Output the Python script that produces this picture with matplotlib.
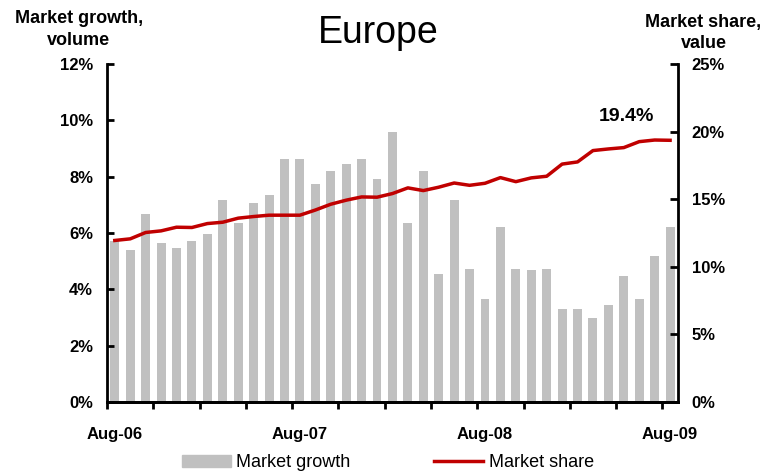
import matplotlib.pyplot as plt
import numpy as np
from matplotlib.patches import Patch
from matplotlib.lines import Line2D

plt.rcParams['font.family'] = ['Liberation Sans', 'DejaVu Sans']

# monthly data, Aug-06 .. Aug-09
months = ["Aug-06", "Sep-06", "Oct-06", "Nov-06", "Dec-06", "Jan-07", "Feb-07", "Mar-07",
          "Apr-07", "May-07", "Jun-07", "Jul-07", "Aug-07", "Sep-07", "Oct-07", "Nov-07",
          "Dec-07", "Jan-08", "Feb-08", "Mar-08", "Apr-08", "May-08", "Jun-08", "Jul-08",
          "Aug-08", "Sep-08", "Oct-08", "Nov-08", "Dec-08", "Jan-09", "Feb-09", "Mar-09",
          "Apr-09", "May-09", "Jun-09", "Jul-09", "Aug-09"]
growth = [5.73, 5.38, 6.69, 5.66, 5.48, 5.73, 5.95, 7.19, 6.37, 7.08, 7.36, 8.64, 8.64,
          7.75, 8.22, 8.46, 8.64, 7.93, 9.60, 6.37, 8.22, 4.53, 7.19, 4.74, 3.64, 6.23,
          4.74, 4.67, 4.74, 3.29, 3.29, 2.97, 3.46, 4.49, 3.64, 5.17, 6.23]
share = [11.95, 12.07, 12.54, 12.66, 12.93, 12.91, 13.2, 13.3, 13.6, 13.72, 13.82, 13.82,
         13.82, 14.2, 14.63, 14.93, 15.17, 15.15, 15.42, 15.84, 15.64, 15.89, 16.2, 16.03,
         16.18, 16.6, 16.3, 16.58, 16.7, 17.6, 17.76, 18.6, 18.72, 18.82, 19.26, 19.38, 19.36]
shown_labels = ["Aug-06", "Aug-07", "Aug-08", "Aug-09"]

x = np.arange(len(months))

fig = plt.figure(figsize=(7.65, 4.71), dpi=100)
ax = fig.add_axes([0.14, 0.1465, 0.746, 0.7175])
ax2 = ax.twinx()

ax.bar(x, growth, width=0.58, color="#c0c0c0", zorder=1)
ax2.plot(x, share, color="#c00000", lw=2.5, zorder=3)

ax.set_xlim(-0.5, len(months) - 0.5)
ax.set_ylim(0, 12)
ax2.set_ylim(0, 25)

ax.set_yticks(np.arange(0, 13, 2))
ax.set_yticklabels([f"{v}%" for v in range(0, 13, 2)], fontweight="bold", fontsize=12)
ax2.set_yticks(np.arange(0, 26, 5))
ax2.set_yticklabels([f"{v}%" for v in range(0, 26, 5)], fontweight="bold", fontsize=12)

# tick marks every 3 months on the boundaries, labels once a year
ax.set_xticks(np.arange(-0.5, len(months), 3))
ax.set_xticklabels([])
ax.set_xticks([months.index(m) for m in shown_labels], minor=True)
ax.set_xticklabels(shown_labels, minor=True, fontweight="bold", fontsize=12)
ax.tick_params(axis="x", which="minor", length=0, pad=18)
ax.tick_params(axis="x", which="major", direction="out", length=5, width=2)
ax.tick_params(axis="y", direction="in", length=5, width=2, pad=10)
ax2.tick_params(axis="y", direction="in", length=6, width=2, pad=10)

for a in (ax, ax2):
    a.spines["top"].set_visible(False)
    a.spines["left"].set_linewidth(2)
    a.spines["right"].set_linewidth(2)
    a.spines["bottom"].set_linewidth(2)
ax.spines["right"].set_visible(False)
ax2.spines["left"].set_visible(False)

ax2.text(33.2, 20.8, "19.4%", fontsize=14, fontweight="bold", ha="center", va="baseline")

fig.text(0.495, 0.909, "Europe", fontsize=27, ha="center", va="baseline")
fig.text(0.103, 0.951, "Market growth,", fontsize=13, fontweight="bold", ha="center", va="baseline")
fig.text(0.103, 0.904, "volume", fontsize=13, fontweight="bold", ha="center", va="baseline")
fig.text(0.919, 0.943, "Market share,", fontsize=13, fontweight="bold", ha="center", va="baseline")
fig.text(0.920, 0.898, "value", fontsize=13, fontweight="bold", ha="center", va="baseline")

handles = [Patch(color="#c0c0c0"), Line2D([], [], color="#c00000", lw=2.5)]
fig.legend(handles, ["Market growth", "Market share"], loc="lower left",
           bbox_to_anchor=(0.238, 0.0), ncol=2, frameon=False, fontsize=13,
           handlelength=2.7, handleheight=0.67, columnspacing=4.65, handletextpad=0.3,
           borderpad=0, borderaxespad=0)

fig.savefig("out.png", dpi=100)
